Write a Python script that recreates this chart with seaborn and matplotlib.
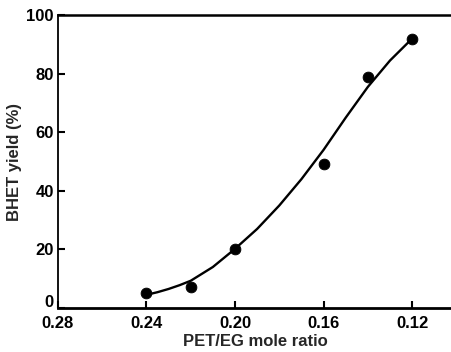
import matplotlib
matplotlib.use("Agg")
import matplotlib.pyplot as plt
import matplotlib.transforms as mtransforms
import seaborn as sns
import pandas as pd

# === Data ===
ratio = [0.24, 0.22, 0.20, 0.16, 0.14, 0.12]
yield_pct = [5, 7, 20, 49, 79, 92]

# hand-drawn fit curve
curve_ratio = [0.24, 0.235, 0.23, 0.225, 0.22, 0.21, 0.20, 0.19, 0.18, 0.17, 0.16, 0.15, 0.14, 0.13, 0.12]
curve_yield = [4.5, 5.4, 6.5, 7.8, 9.3, 14.0, 20.2, 27.0, 35.0, 44.0, 54.0, 65.0, 75.5, 84.5, 92.0]

x_ticks = [0.28, 0.24, 0.20, 0.16, 0.12]
x_tick_labels = ["0.28", "0.24", "0.20", "0.16", "0.12"]
y_ticks = [0, 20, 40, 60, 80, 100]

points = pd.DataFrame({"ratio": ratio, "yield": yield_pct})
curve = pd.DataFrame({"ratio": curve_ratio, "yield": curve_yield})

sns.set_style("white")
plt.rcParams["font.family"] = ["Liberation Sans", "DejaVu Sans"]

fig = plt.figure(figsize=(4.52, 3.52), dpi=100)
ax = fig.add_axes([0.128, 0.125, 0.872, 0.832])

sns.lineplot(data=curve, x="ratio", y="yield", color="black", linewidth=1.7, ax=ax)
sns.scatterplot(data=points, x="ratio", y="yield", color="black", s=60,
                edgecolor="black", zorder=3, ax=ax)

ax.set_xlim(0.28, 0.102)
ax.set_ylim(0, 100)
ax.set_xticks(x_ticks)
ax.set_xticklabels(x_tick_labels)
ax.set_yticks(y_ticks)

# === Frame: left, top, bottom only ===
for side in ["left", "top", "bottom"]:
    ax.spines[side].set_visible(True)
    ax.spines[side].set_color("black")
ax.spines["left"].set_linewidth(1.3)
ax.spines["top"].set_linewidth(1.8)
ax.spines["bottom"].set_linewidth(2.0)
ax.spines["right"].set_visible(False)

ax.tick_params(axis="both", direction="in", length=5, width=1.5, colors="black",
               labelsize=12, pad=4)
ax.tick_params(axis="x", bottom=True, top=False, pad=6)
ax.tick_params(axis="y", left=True, right=False, pad=3)
for lbl in ax.get_xticklabels() + ax.get_yticklabels():
    lbl.set_fontweight("bold")

# the "0" label sits a little above the bottom axis in the original
zero_lbl = ax.get_yticklabels()[0]
zero_lbl.set_transform(zero_lbl.get_transform() +
                       mtransforms.ScaledTranslation(0, 7 / 100, fig.dpi_scale_trans))

ax.set_xlabel("PET/EG mole ratio", fontsize=12, fontweight="bold", labelpad=2)
ax.set_ylabel("BHET yield (%)", fontsize=12, fontweight="bold", labelpad=3)

plt.savefig("out.png", dpi=100)
